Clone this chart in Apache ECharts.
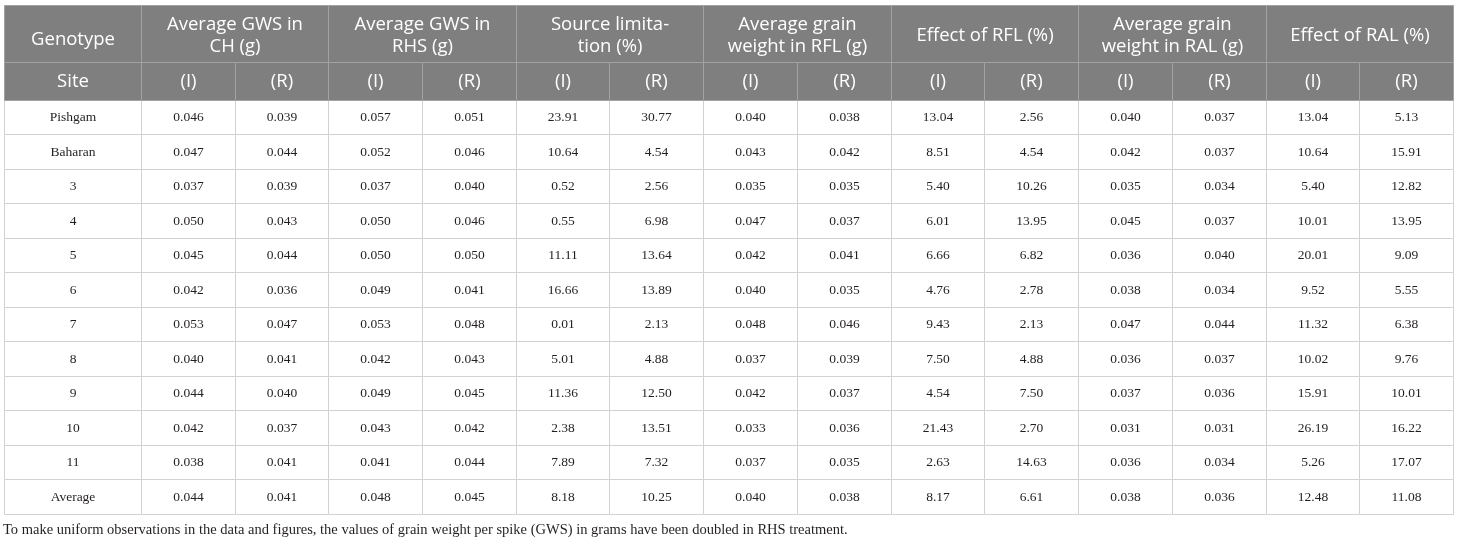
<!DOCTYPE html>
<html>
<head>
<meta charset="utf-8">
<script src="https://cdn.jsdelivr.net/npm/echarts@6/dist/echarts.min.js"></script>
<style>
	html, body { margin: 0; padding: 0; background: #fff; }
	#sinkTable { width: 1460px; height: 542px; }
</style>
</head>
<body>
<div id="sinkTable"></div>
<script>
// table contents
let genotypes = ["Pishgam", "Baharan", "3", "4", "5", "6", "7", "8", "9", "10", "11", "Average"];
let groupTitles = [
	"Average GWS in\nCH (g)",
	"Average GWS in\nRHS (g)",
	"Source limita-\ntion (%)",
	"Average grain\nweight in RFL (g)",
	"Effect of RFL (%)",
	"Average grain\nweight in RAL (g)",
	"Effect of RAL (%)",
];
let subLabels = ["(I)", "(R)"];

let chI = [0.046, 0.047, 0.037, 0.050, 0.045, 0.042, 0.053, 0.040, 0.044, 0.042, 0.038, 0.044];
let chR = [0.039, 0.044, 0.039, 0.043, 0.044, 0.036, 0.047, 0.041, 0.040, 0.037, 0.041, 0.041];
let rhsI = [0.057, 0.052, 0.037, 0.050, 0.050, 0.049, 0.053, 0.042, 0.049, 0.043, 0.041, 0.048];
let rhsR = [0.051, 0.046, 0.040, 0.046, 0.050, 0.041, 0.048, 0.043, 0.045, 0.042, 0.044, 0.045];
let sourceI = [23.91, 10.64, 0.52, 0.55, 11.11, 16.66, 0.01, 5.01, 11.36, 2.38, 7.89, 8.18];
let sourceR = [30.77, 4.54, 2.56, 6.98, 13.64, 13.89, 2.13, 4.88, 12.50, 13.51, 7.32, 10.25];
let rflWeightI = [0.040, 0.043, 0.035, 0.047, 0.042, 0.040, 0.048, 0.037, 0.042, 0.033, 0.037, 0.040];
let rflWeightR = [0.038, 0.042, 0.035, 0.037, 0.041, 0.035, 0.046, 0.039, 0.037, 0.036, 0.035, 0.038];
let rflEffectI = [13.04, 8.51, 5.40, 6.01, 6.66, 4.76, 9.43, 7.50, 4.54, 21.43, 2.63, 8.17];
let rflEffectR = [2.56, 4.54, 10.26, 13.95, 6.82, 2.78, 2.13, 4.88, 7.50, 2.70, 14.63, 6.61];
let ralWeightI = [0.040, 0.042, 0.035, 0.045, 0.036, 0.038, 0.047, 0.036, 0.037, 0.031, 0.036, 0.038];
let ralWeightR = [0.037, 0.037, 0.034, 0.037, 0.040, 0.034, 0.044, 0.037, 0.036, 0.031, 0.034, 0.036];
let ralEffectI = [13.04, 10.64, 5.40, 10.01, 20.01, 9.52, 11.32, 10.02, 15.91, 26.19, 5.26, 12.48];
let ralEffectR = [5.13, 15.91, 12.82, 13.95, 9.09, 5.55, 6.38, 9.76, 10.01, 16.22, 17.07, 11.08];

let footnote = "To make uniform observations in the data and figures, the values of grain weight per spike (GWS) in grams have been doubled in RHS treatment.";

function sinkTable() {
	let dom = document.getElementById("sinkTable");
	let myChart = echarts.init(dom, null, { renderer: "canvas" });

	// value columns, with decimals used when printing
	let valueCols = [
		[chI, 3], [chR, 3], [rhsI, 3], [rhsR, 3],
		[sourceI, 2], [sourceR, 2], [rflWeightI, 3], [rflWeightR, 3],
		[rflEffectI, 2], [rflEffectR, 2], [ralWeightI, 3], [ralWeightR, 3],
		[ralEffectI, 2], [ralEffectR, 2],
	];

	// column edges in axis units: first column is wider
	let firstW = 1.46;
	let colEdges = [0, firstW];
	valueCols.forEach((c, i) => colEdges.push(firstW + i + 1));
	// row edges in axis units: two header rows, then one unit per genotype
	let rowEdges = [0, 1.652, 2.753];
	genotypes.forEach((g, i) => rowEdges.push(2.753 + i + 1));

	let headerCells = [];
	headerCells.push({ x0: colEdges[0], x1: colEdges[1], y0: rowEdges[0], y1: rowEdges[1], text: "Genotype", dy: 6 });
	headerCells.push({ x0: colEdges[0], x1: colEdges[1], y0: rowEdges[1], y1: rowEdges[2], text: "Site", dy: 0 });
	groupTitles.forEach((t, g) => {
		headerCells.push({ x0: colEdges[1 + g * 2], x1: colEdges[3 + g * 2], y0: rowEdges[0], y1: rowEdges[1], text: t, dy: 2 });
		subLabels.forEach((s, k) => {
			let c = 1 + g * 2 + k;
			headerCells.push({ x0: colEdges[c], x1: colEdges[c + 1], y0: rowEdges[1], y1: rowEdges[2], text: s, dy: 0 });
		});
	});

	let bodyCells = [];
	genotypes.forEach((name, r) => {
		bodyCells.push({ x0: colEdges[0], x1: colEdges[1], y0: rowEdges[r + 2], y1: rowEdges[r + 3], text: name, dy: 0 });
		valueCols.forEach((col, c) => {
			bodyCells.push({
				x0: colEdges[c + 1], x1: colEdges[c + 2],
				y0: rowEdges[r + 2], y1: rowEdges[r + 3],
				text: col[0][r].toFixed(col[1]), dy: 0,
			});
		});
	});

	function cellRenderer(cells, look) {
		return function (params, api) {
			let cell = cells[params.dataIndex];
			let a = api.coord([api.value(0), api.value(2)]);
			let b = api.coord([api.value(1), api.value(3)]);
			let x0 = Math.round(a[0]) + 0.5, x1 = Math.round(b[0]) + 0.5;
			let y0 = Math.round(a[1]) + 0.5, y1 = Math.round(b[1]) + 0.5;
			return {
				type: "group",
				children: [
					{
						type: "rect",
						shape: { x: x0, y: y0, width: x1 - x0, height: y1 - y0 },
						style: { fill: look.fill, stroke: look.stroke, lineWidth: 1 },
					},
					{
						type: "text",
						style: {
							text: cell.text,
							x: (x0 + x1) / 2,
							y: (y0 + y1) / 2 + cell.dy,
							align: "center",
							verticalAlign: "middle",
							fontFamily: look.font,
							fontSize: look.size,
							lineHeight: look.lineHeight,
							fill: look.color,
						},
					},
				],
			};
		};
	}

	let toData = (cells) => cells.map((c) => [c.x0, c.x1, c.y0, c.y1]);

	let option = {
		animation: false,
		title: {
			text: footnote,
			left: 3,
			top: 522,
			padding: 0,
			textStyle: {
				fontFamily: "Liberation Serif",
				fontSize: 14.5,
				lineHeight: 16,
				fontWeight: "normal",
				color: "#231f20",
			},
		},
		grid: { left: 4, top: 5, width: 1449, height: 509 },
		xAxis: { type: "value", min: 0, max: colEdges[colEdges.length - 1], show: false },
		yAxis: { type: "value", min: 0, max: rowEdges[rowEdges.length - 1], inverse: true, show: false },
		series: [
			{
				type: "custom",
				name: "body",
				data: toData(bodyCells),
				encode: { x: [0, 1], y: [2, 3] },
				renderItem: cellRenderer(bodyCells, {
					fill: "#ffffff", stroke: "#d2d2d2", color: "#231f20",
					font: "Liberation Serif", size: 13.5, lineHeight: 16,
				}),
				silent: true,
			},
			{
				type: "custom",
				name: "header",
				data: toData(headerCells),
				encode: { x: [0, 1], y: [2, 3] },
				renderItem: cellRenderer(headerCells, {
					fill: "#7f7f7f", stroke: "#a2a2a2", color: "#ffffff",
					font: "Open Sans", size: 18.5, lineHeight: 22,
				}),
				silent: true,
			},
		],
	};

	myChart.setOption(option);
	window.addEventListener("resize", myChart.resize);
}

(function init() {
	sinkTable();
})();
</script>
</body>
</html>
